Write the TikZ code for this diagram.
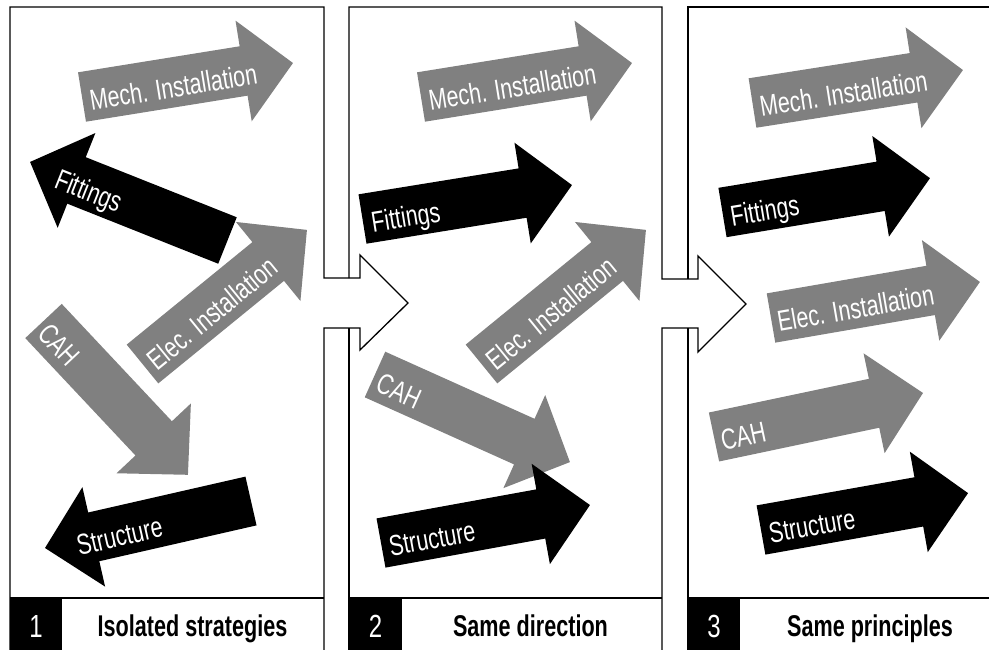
\documentclass[tikz,border=0pt]{standalone}
\usepackage{fontspec}
\setmainfont{Liberation Sans}
\newfontfamily\arrfont{Liberation Sans}[FakeStretch=0.74]
\newfontfamily\labfont{Liberation Sans}[FakeStretch=0.72]
\newfontfamily\numfont{Liberation Sans}[FakeStretch=0.75]
\definecolor{arrgray}{RGB}{128,128,128}
\tikzset{
  arrtext/.style={font=\arrfont\fontsize{29}{33}\selectfont, text=white, inner sep=0pt, anchor=base},
  labtext/.style={font=\labfont\bfseries\fontsize{30}{34}\selectfont, text=black, inner sep=0pt, anchor=base},
  numtext/.style={font=\numfont\fontsize{32}{36}\selectfont, text=white, inner sep=0pt, anchor=base},
  frame/.style={line width=1.3pt, line join=miter, draw=black},
  divider/.style={line width=2pt, draw=black},
  numbox/.style={fill=black},
}
% #1 name, #2 tail x, #3 tail y, #4 angle, #5 length, #6 fill, #7 text, #8 text pos (d,o), #9 text rotation
\newcommand{\flowarrow}[9]{%
  \begin{scope}[shift={(#2,#3)},rotate=#4]
    \fill[#6] (0,-25) -- ({#5-50},-25) -- ({#5-50},-51) -- (#5,0) -- ({#5-50},51) -- ({#5-50},25) -- (0,25) -- cycle;
    \node[arrtext,rotate=#9] (#1) at (#8) {#7};
  \end{scope}}
\begin{document}
\begin{tikzpicture}[x=1pt,y=-1pt]
\useasboundingbox (0,0) rectangle (989,650);
\clip (0,0) rectangle (989,650);
\fill[white] (0,0) rectangle (989,650);

% panel frames with the hollow connector arrows
\draw[frame] (324,660) -- (324,328) -- (360,328) -- (360,350) -- (408,303) -- (360,255) -- (360,278) -- (324,278) -- (324,7) -- (10,7) -- (10,660);
\draw[frame] (349,278) -- (349,7) -- (662,7) -- (662,279) -- (698,279) -- (698,256) -- (746,304) -- (698,352) -- (698,328) -- (662,328) -- (662,660);
\draw[frame] (349,328) -- (349,660);
\draw[frame] (688,279) -- (688,7) -- (1000,7);
\draw[frame] (688,328) -- (688,660);

% bottom strips
\draw[divider] (10,598) -- (324,598);
\draw[divider] (349,598) -- (662,598);
\draw[divider] (688,598) -- (1000,598);
\fill[numbox] (10,598) rectangle (62,660);
\fill[numbox] (349,598) rectangle (402,660);
\fill[numbox] (688,598) rectangle (740,660);
\node[numtext] (n1) at (36,637) {1};
\node[numtext] (n2) at (375.5,637) {2};
\node[numtext] (n3) at (714,637) {3};
\node[labtext] (l1) at (192.5,636) {Isolated strategies};
\node[labtext] (l2) at (530.5,636) {Same direction};
\node[labtext] (l3) at (870,636) {Same principles};

% gray arrows
\flowarrow{p1mech}{82}{97}{9.15}{213.7}{arrgray}{Mech. Installation}{91.7,15}{9.15}
\flowarrow{p1elec}{142.5}{364}{39.2}{212.2}{arrgray}{Elec. Installation}{86,15}{39.2}
\flowarrow{p1cah}{43.5}{321}{-46.8}{211}{arrgray}{CAH}{28,15}{-46.8}
\flowarrow{p2mech}{421}{97}{9.15}{213.7}{arrgray}{Mech. Installation}{91.7,15}{9.15}
\flowarrow{p2elec}{481.5}{364}{39.2}{212.2}{arrgray}{Elec. Installation}{86,15}{39.2}
\flowarrow{p2cah}{375}{374.5}{-24.2}{213.7}{arrgray}{CAH}{29,15}{-24.2}
\flowarrow{p3mech}{752.5}{103}{8.9}{213}{arrgray}{Mech. Installation}{91.5,15}{8.9}
\flowarrow{p3elec}{771}{318}{9.8}{212}{arrgray}{Elec. Installation}{85,15}{9.8}
\flowarrow{p3cah}{714}{437}{11.9}{213.6}{arrgray}{CAH}{29,15}{11.9}

% black arrows
\flowarrow{p1fit}{227.5}{240.5}{158.3}{212.5}{black}{Fittings}{147,-15}{-21.7}
\flowarrow{p1str}{251}{501}{192.85}{211.3}{black}{Structure}{136,-15}{12.85}
\flowarrow{p2fit}{362.5}{219}{9.2}{212.2}{black}{Fittings}{43,15}{9.2}
\flowarrow{p2str}{381}{543}{10.3}{212.4}{black}{Structure}{51,15}{10.3}
\flowarrow{p3fit}{722.5}{212.5}{9.4}{210.3}{black}{Fittings}{42,15}{9.4}
\flowarrow{p3str}{761}{530}{10.1}{210.3}{black}{Structure}{51,15}{10.1}
\end{tikzpicture}
\end{document}
